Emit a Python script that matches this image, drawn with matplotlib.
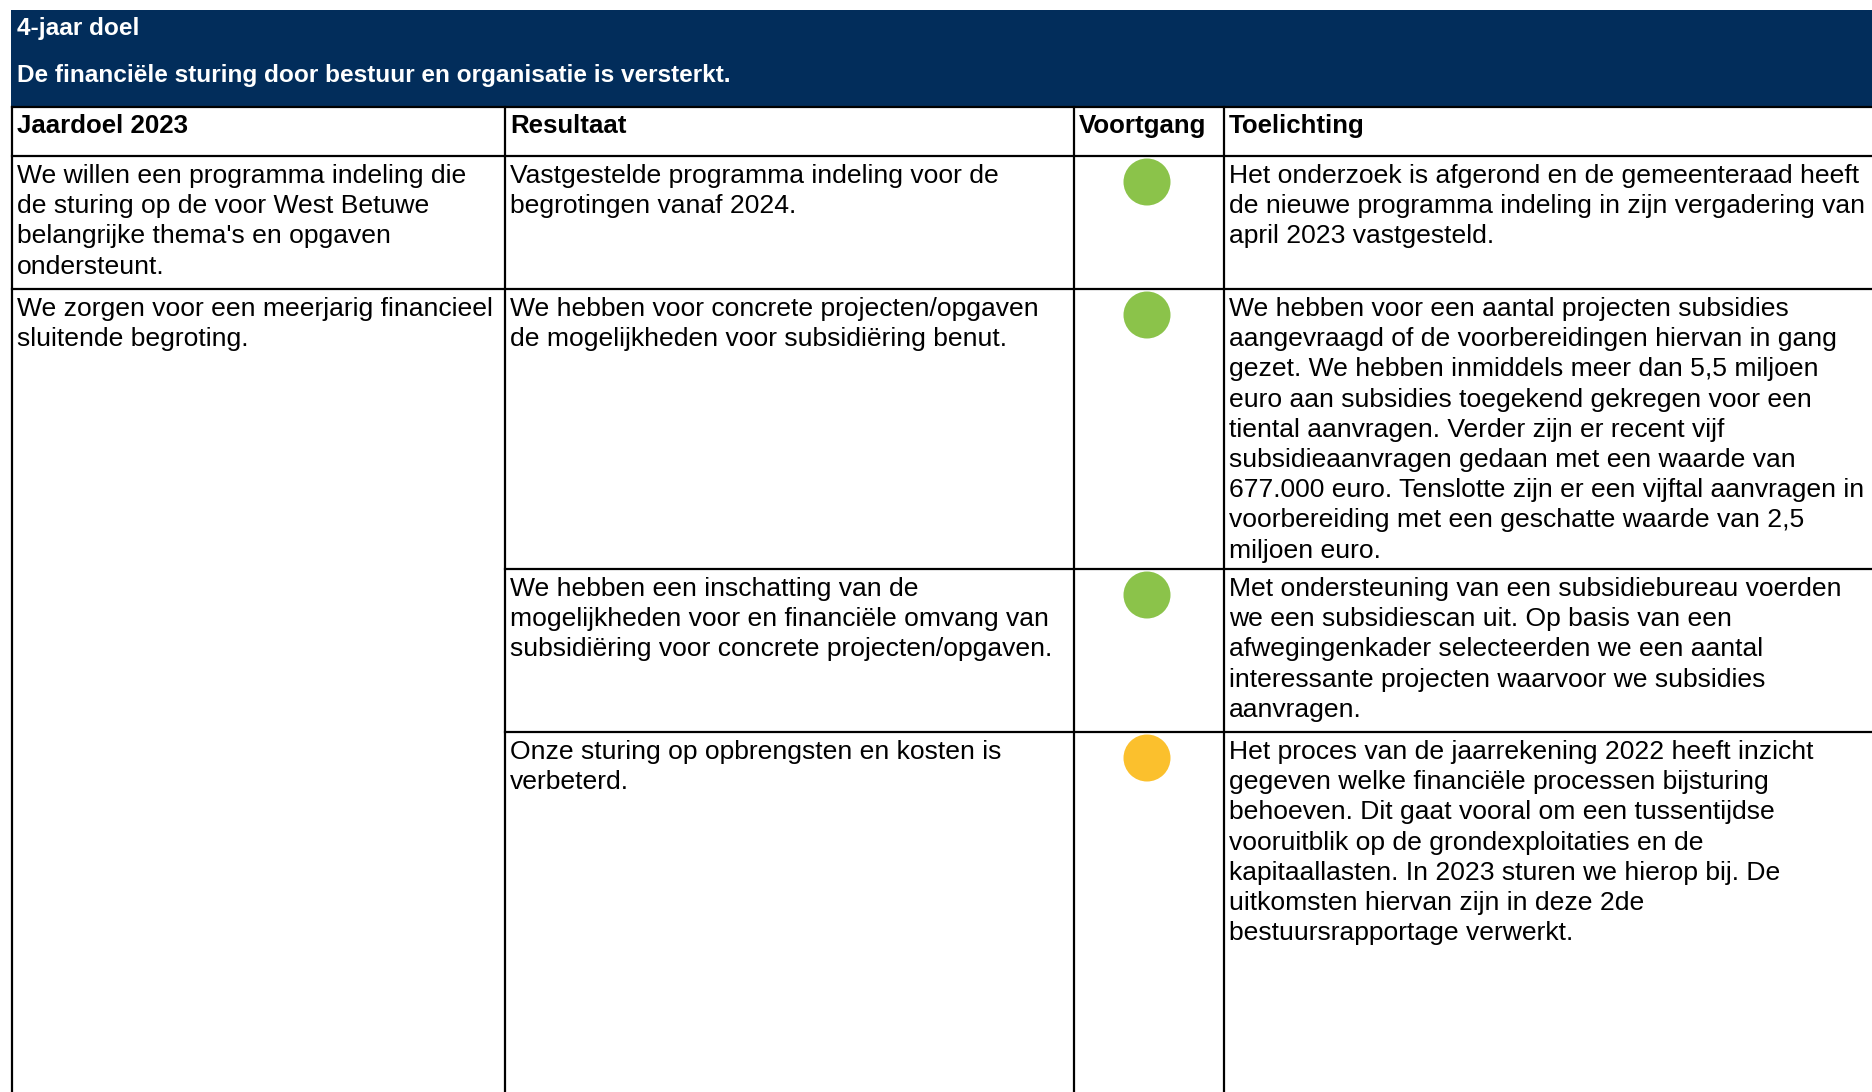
import matplotlib.pyplot as plt
from matplotlib.patches import Rectangle, Circle

# table content
goal_label = "4-jaar doel"
goal_text = "De financiële sturing door bestuur en organisatie is versterkt."
headers = ["Jaardoel 2023", "Resultaat", "Voortgang", "Toelichting"]

jaardoel = [
    ["We willen een programma indeling die", "de sturing op de voor West Betuwe",
     "belangrijke thema's en opgaven", "ondersteunt."],
    ["We zorgen voor een meerjarig financieel", "sluitende begroting."],
]
jaardoel_span = [1, 3]  # number of result rows each goal covers

resultaat = [
    ["Vastgestelde programma indeling voor de", "begrotingen vanaf 2024."],
    ["We hebben voor concrete projecten/opgaven",
     "de mogelijkheden voor subsidiëring benut."],
    ["We hebben een inschatting van de",
     "mogelijkheden voor en financiële omvang van",
     "subsidiëring voor concrete projecten/opgaven."],
    ["Onze sturing op opbrengsten en kosten is", "verbeterd."],
]
voortgang = ["groen", "groen", "groen", "oranje"]
toelichting = [
    ["Het onderzoek is afgerond en de gemeenteraad heeft",
     "de nieuwe programma indeling in zijn vergadering van",
     "april 2023 vastgesteld."],
    ["We hebben voor een aantal projecten subsidies",
     "aangevraagd of de voorbereidingen hiervan in gang",
     "gezet. We hebben inmiddels meer dan 5,5 miljoen",
     "euro aan subsidies toegekend gekregen voor een",
     "tiental aanvragen. Verder zijn er recent vijf",
     "subsidieaanvragen gedaan met een waarde van",
     "677.000 euro. Tenslotte zijn er een vijftal aanvragen in",
     "voorbereiding met een geschatte waarde van 2,5",
     "miljoen euro."],
    ["Met ondersteuning van een subsidiebureau voerden",
     "we een subsidiescan uit. Op basis van een",
     "afwegingenkader selecteerden we een aantal",
     "interessante projecten waarvoor we subsidies",
     "aanvragen."],
    ["Het proces van de jaarrekening 2022 heeft inzicht",
     "gegeven welke financiële processen bijsturing",
     "behoeven. Dit gaat vooral om een tussentijdse",
     "vooruitblik op de grondexploitaties en de",
     "kapitaallasten. In 2023 sturen we hierop bij. De",
     "uitkomsten hiervan zijn in deze 2de",
     "bestuursrapportage verwerkt."],
]

status_colors = {"groen": "#8bc34a", "oranje": "#fbc02d"}
navy = "#022d5b"

# layout in pixels
W, H = 1872, 1092
col_x = [12, 505, 1074, 1224, W]
band_top, band_bot = 10, 107
head_bot = 156
row_y = [156, 289, 569, 732, H]
line_h = 30.2
pad_x = 5
base_off = 27

plt.rcParams['font.family'] = ['Liberation Sans', 'DejaVu Sans']

fig = plt.figure(figsize=(W / 100, H / 100), dpi=100)
ax = fig.add_axes([0, 0, 1, 1])
ax.set_xlim(0, W)
ax.set_ylim(H, 0)
ax.axis('off')

# navy band
ax.add_patch(Rectangle((11, band_top), W - 11, band_bot - band_top, color=navy, lw=0))
ax.text(17, 35, goal_label, color='white', fontsize=17.6, fontweight='bold', va='baseline')
ax.text(17, 82, goal_text, color='white', fontsize=17.6, fontweight='bold', va='baseline')

lw = 1.6
# header row
ax.plot([col_x[0], W], [band_bot, band_bot], color='black', lw=lw)
ax.plot([col_x[0], W], [head_bot, head_bot], color='black', lw=lw)
for i, h in enumerate(headers):
    ax.text(col_x[i] + pad_x, band_bot + 26, h, fontsize=18.6, fontweight='bold',
            va='baseline')

# vertical lines
for x in col_x[:-1]:
    ax.plot([x, x], [band_bot, H], color='black', lw=lw)

# horizontal row lines (column 1 merged over goal span)
bounds = [0]
for s in jaardoel_span:
    bounds.append(bounds[-1] + s)
for r in range(1, len(resultaat)):
    x0 = col_x[0] if r in bounds else col_x[1]
    ax.plot([x0, W], [row_y[r], row_y[r]], color='black', lw=lw)


def draw_lines(x, top, lines):
    for k, s in enumerate(lines):
        ax.text(x + pad_x, top + base_off + k * line_h, s, fontsize=19.05, va='baseline')


for g, lines in enumerate(jaardoel):
    draw_lines(col_x[0], row_y[bounds[g]], lines)

for r in range(len(resultaat)):
    draw_lines(col_x[1], row_y[r], resultaat[r])
    draw_lines(col_x[3], row_y[r], toelichting[r])
    cx = (col_x[2] + col_x[3]) / 2 - 2
    ax.add_patch(Circle((cx, row_y[r] + 26), 23.5, color=status_colors[voortgang[r]], lw=0))

fig.savefig('out.png', dpi=100)
